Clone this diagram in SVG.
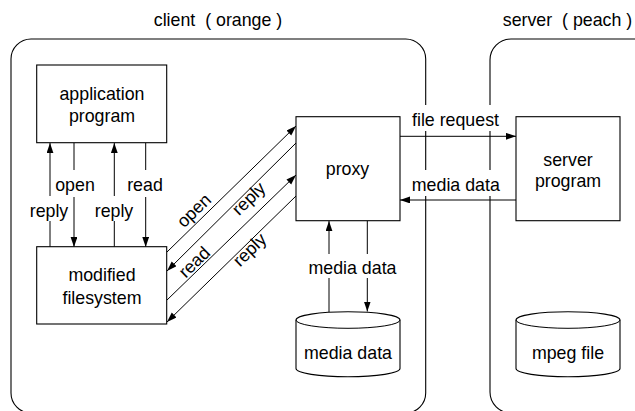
<svg xmlns="http://www.w3.org/2000/svg" width="635" height="411" viewBox="0 0 635 411">
  <style>
    .box { fill: #ffffff; stroke: #000000; stroke-width: 1.1; }
    .zone { fill: none; stroke: #000000; stroke-width: 1.1; }
    .edge { fill: none; stroke: #000000; stroke-width: 1; }
    .arr { marker-end: url(#head); }
    .t { font-family: "Liberation Sans", Arial, sans-serif; font-size: 17.8px; fill: #000000; text-anchor: middle; }
    .bg { fill: #ffffff; stroke: none; }
  </style>
  <defs>
    <marker id="head" markerUnits="userSpaceOnUse" markerWidth="11" markerHeight="8" refX="10" refY="3.4" orient="auto">
      <path d="M0,0 L10,3.4 L0,6.8 z" fill="#000000"/>
    </marker>
  </defs>
  <rect width="635" height="411" fill="#ffffff"/>

  <!-- hosts -->
  <g id="client">
    <rect class="zone" x="11" y="39" width="414.7" height="374" rx="20" ry="20"/>
    <text class="t" x="218" y="26" xml:space="preserve">client  ( orange )</text>
  </g>
  <g id="server">
    <rect class="zone" x="490" y="39" width="180" height="374" rx="21" ry="21"/>
    <text class="t" x="567.5" y="26" xml:space="preserve">server  ( peach )</text>
  </g>

  <!-- connectors -->
  <g id="connectors">
    <!-- application program <-> modified filesystem -->
    <line class="edge arr" x1="50" y1="247" x2="50" y2="143"/>
    <line class="edge arr" x1="74" y1="143" x2="74" y2="247"/>
    <line class="edge arr" x1="114.3" y1="247" x2="114.3" y2="143"/>
    <line class="edge arr" x1="145.7" y1="143" x2="145.7" y2="247"/>
    <!-- modified filesystem <-> proxy -->
    <line class="edge arr" x1="167" y1="252" x2="296" y2="126"/>
    <line class="edge arr" x1="296" y1="143" x2="167" y2="271"/>
    <line class="edge arr" x1="167" y1="300" x2="296" y2="175"/>
    <line class="edge arr" x1="296" y1="196" x2="167" y2="322"/>
    <!-- proxy <-> server program -->
    <line class="edge arr" x1="400" y1="136.3" x2="516" y2="136.3"/>
    <line class="edge arr" x1="516" y1="200" x2="400" y2="200"/>
    <!-- proxy <-> local media store -->
    <line class="edge arr" x1="329" y1="312.3" x2="329" y2="221"/>
    <line class="edge arr" x1="367.3" y1="221" x2="367.3" y2="311.5"/>

    <!-- labels -->
    <rect class="bg" x="55" y="170" width="40" height="27"/>
    <text class="t" x="75" y="191">open</text>
    <rect class="bg" x="127" y="170" width="36" height="27"/>
    <text class="t" x="145" y="191">read</text>
    <rect class="bg" x="30" y="196" width="39" height="25"/>
    <text class="t" x="49" y="217">reply</text>
    <rect class="bg" x="95" y="196" width="39" height="25"/>
    <text class="t" x="114" y="217">reply</text>

    <text class="t" transform="translate(198.1 214.8) rotate(-44.3)">open</text>
    <text class="t" transform="translate(252.9 202.9) rotate(-44.3)">reply</text>
    <text class="t" transform="translate(198.5 266.4) rotate(-44.3)">read</text>
    <text class="t" transform="translate(253.7 254.1) rotate(-44.3)">reply</text>

    <rect class="bg" x="410" y="105" width="92" height="26"/>
    <text class="t" x="455.5" y="126">file request</text>
    <rect class="bg" x="410" y="170" width="92" height="26"/>
    <text class="t" x="455.8" y="190.7">media data</text>
    <rect class="bg" x="307" y="254" width="91" height="24"/>
    <text class="t" x="352.5" y="274">media data</text>
  </g>

  <!-- processes -->
  <g id="application-program">
    <rect class="box" x="36.7" y="65" width="130" height="77.7"/>
    <text class="t" x="102" y="100">application</text>
    <text class="t" x="102" y="122.3">program</text>
  </g>
  <g id="modified-filesystem">
    <rect class="box" x="36.7" y="246.7" width="130" height="77.3"/>
    <text class="t" x="102" y="281">modified</text>
    <text class="t" x="102" y="304">filesystem</text>
  </g>
  <g id="proxy">
    <rect class="box" x="296" y="116.7" width="104" height="104"/>
    <text class="t" x="347.5" y="175">proxy</text>
  </g>
  <g id="server-program">
    <rect class="box" x="516" y="116.7" width="104" height="104"/>
    <text class="t" x="568" y="165.5">server</text>
    <text class="t" x="568" y="187.3">program</text>
  </g>

  <!-- stores -->
  <g id="media-data-store">
    <path class="box" d="M296,320 A52,8.3 0 0 1 400,320 L400,368.5 A52,8.3 0 0 1 296,368.5 Z"/>
    <path class="edge" d="M296,320 A52,8.3 0 0 0 400,320"/>
    <text class="t" x="348" y="359.3">media data</text>
  </g>
  <g id="mpeg-file-store">
    <path class="box" d="M516,320 A52,8.3 0 0 1 620,320 L620,368.5 A52,8.3 0 0 1 516,368.5 Z"/>
    <path class="edge" d="M516,320 A52,8.3 0 0 0 620,320"/>
    <text class="t" x="568" y="359.3">mpeg file</text>
  </g>
</svg>
